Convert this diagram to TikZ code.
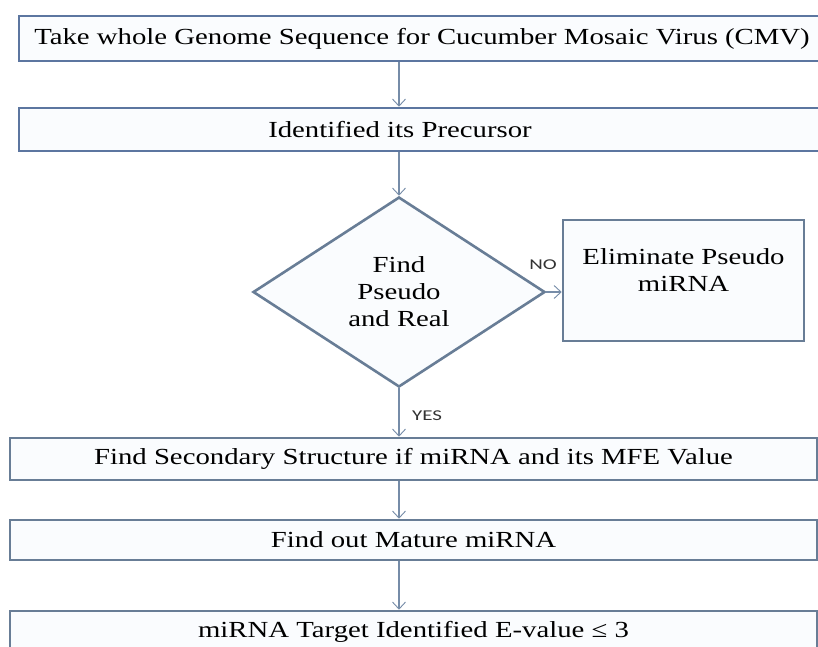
\documentclass[tikz,border=0pt]{standalone}
\usepackage{fontspec}
\setmainfont{Liberation Serif}[FakeStretch=1.25]
\newfontfamily\labelfont{Carlito}[FakeStretch=1.4]
\usetikzlibrary{shapes.geometric,arrows.meta}
\definecolor{edgeblue}{RGB}{92,118,160}
\definecolor{edgegray}{RGB}{104,125,150}
\definecolor{arrowc}{RGB}{118,140,168}
\definecolor{boxfill}{RGB}{250,252,254}
\tikzset{
  x=1pt,y=1pt,
  flowbox/.style={draw=edgegray, line width=2.6pt, fill=boxfill, inner sep=0pt,
    font=\fontsize{23}{27}\selectfont, align=center},
  topbox/.style={flowbox, draw=edgeblue},
  decision/.style={diamond, draw=edgegray, line width=2.6pt, fill=boxfill, inner sep=0pt,
    font=\fontsize{23}{27}\selectfont, align=center},
  flowarrow/.style={draw=arrowc, line width=1.1pt, -{Straight Barb[length=7pt,width=13pt,line width=0.9pt]}},
  tag/.style={font=\labelfont\fontsize{15}{17}\selectfont, text=black!80, inner sep=0pt}
}
\begin{document}
\begin{tikzpicture}
\clip (0,0) rectangle (818,-646);
\fill[white] (0,0) rectangle (818,-646);
\node[topbox, minimum width=815, minimum height=45] (b1) at (426.5,-38.5)
  {Take whole Genome Sequence for Cucumber Mosaic Virus (CMV)\hspace*{9pt}};
\node[topbox, minimum width=815, minimum height=43] (b2) at (426.5,-129.5)
  {Identified its Precursor\hspace*{53pt}};
\node[decision, minimum width=292, minimum height=190] (d) at (399,-292)
  {Find\\Pseudo\\and Real};
\node[flowbox, minimum width=241, minimum height=121] (e) at (683.5,-280.5)
  {Eliminate Pseudo\\miRNA\\[-6pt]\mbox{}};
\node[flowbox, minimum width=807, minimum height=42] (b3) at (413.5,-459)
  {Find Secondary Structure if miRNA and its MFE Value};
\node[flowbox, minimum width=807, minimum height=40] (b4) at (413.5,-540)
  {Find out Mature miRNA};
\node[flowbox, minimum width=807, minimum height=42] (b5) at (413.5,-632)
  {miRNA Target Identified E-value ≤ 3};
\draw[flowarrow] (b1.south -| d.north) -- (b2.north -| d.north);
\draw[flowarrow] (b2.south -| d.north) -- (d.north);
\draw[flowarrow] (d.east) -- (e.west |- d.east);
\draw[flowarrow] (d.south) -- (b3.north -| d.south);
\draw[flowarrow] (b3.south -| d.south) -- (b4.north -| d.south);
\draw[flowarrow] (b4.south -| d.south) -- (b5.north -| d.south);
\node[tag] (no) at (543,-265) {NO};
\node[tag] (yes) at (427,-416) {YES};
\end{tikzpicture}
\end{document}
